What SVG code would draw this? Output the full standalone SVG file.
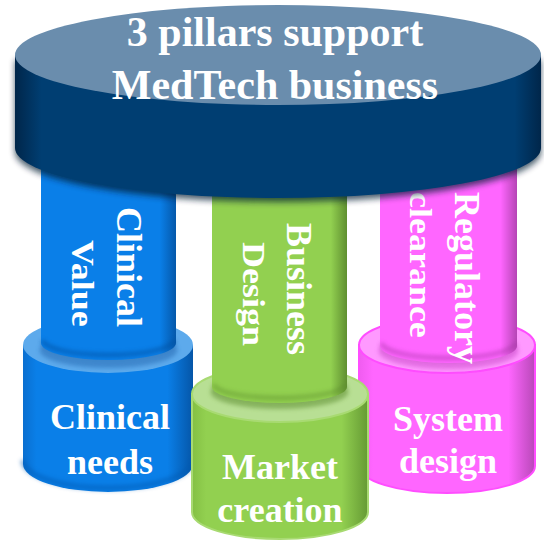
<svg xmlns="http://www.w3.org/2000/svg" width="544" height="542" viewBox="0 0 544 542">
<style>
.t{font-family:"Liberation Serif","Times New Roman",serif;font-weight:bold;fill:#ffffff;font-size:36px}
.title{font-size:42px;text-anchor:middle}
.mid{text-anchor:middle}
</style>
<defs>
<linearGradient id="discSide" x1="0" y1="0" x2="1" y2="0">
<stop offset="0" stop-color="#00264a"/><stop offset="0.05" stop-color="#003E72"/><stop offset="0.95" stop-color="#003E72"/><stop offset="1" stop-color="#00264a"/>
</linearGradient>
<linearGradient id="blueSide" x1="0" y1="0" x2="1" y2="0">
<stop offset="0" stop-color="#0a6fd0"/><stop offset="0.08" stop-color="#0A7FE8"/><stop offset="0.85" stop-color="#0A7FE8"/><stop offset="1" stop-color="#0556a8"/>
</linearGradient>
<linearGradient id="bluePil" x1="0" y1="0" x2="1" y2="0">
<stop offset="0" stop-color="#0A7FE8"/><stop offset="0.88" stop-color="#0A7FE8"/><stop offset="1" stop-color="#0558aa"/>
</linearGradient>
<linearGradient id="greenSide" x1="0" y1="0" x2="1" y2="0">
<stop offset="0" stop-color="#84c044"/><stop offset="0.08" stop-color="#92D050"/><stop offset="0.85" stop-color="#92D050"/><stop offset="1" stop-color="#659a34"/>
</linearGradient>
<linearGradient id="greenPil" x1="0" y1="0" x2="1" y2="0">
<stop offset="0" stop-color="#92D050"/><stop offset="0.88" stop-color="#92D050"/><stop offset="1" stop-color="#5f8f30"/>
</linearGradient>
<linearGradient id="pinkSide" x1="0" y1="0" x2="1" y2="0">
<stop offset="0" stop-color="#f05cf0"/><stop offset="0.08" stop-color="#FF66FF"/><stop offset="0.85" stop-color="#FF66FF"/><stop offset="1" stop-color="#b848b8"/>
</linearGradient>
<linearGradient id="pinkPil" x1="0" y1="0" x2="1" y2="0">
<stop offset="0" stop-color="#FF66FF"/><stop offset="0.88" stop-color="#FF66FF"/><stop offset="1" stop-color="#b545b5"/>
</linearGradient>
<filter id="blur" x="-20%" y="-20%" width="140%" height="140%"><feGaussianBlur stdDeviation="3"/></filter>
<filter id="blur2" x="-20%" y="-50%" width="140%" height="200%"><feGaussianBlur stdDeviation="2"/></filter>
</defs>

<g id="clinical">
<path d="M23,345 V464 A85,28 0 0 0 193,464 V345 Z" fill="url(#blueSide)"/>
<path d="M23,460 A85,28 0 0 0 193,460" fill="none" stroke="#0058b0" stroke-width="5" opacity="0.5" filter="url(#blur2)"/>
<ellipse cx="108" cy="345" rx="85" ry="28" fill="#5DAAEC"/>
<ellipse cx="108.5" cy="350" rx="69" ry="18" fill="#2b70b8" opacity="0.6" filter="url(#blur2)"/>
<path d="M41,120 V343 A67.5,17 0 0 0 176,343 V120 Z" fill="url(#bluePil)"/>
<path d="M43,340 A65.5,15 0 0 0 174,340" fill="none" stroke="#0050a0" stroke-width="4" opacity="0.6" filter="url(#blur2)"/>
<text class="t" transform="translate(117,207) rotate(90)">Clinical</text>
<text class="t" transform="translate(72,240) rotate(90) scale(1,0.88)">Value</text>
<text class="t mid" x="110" y="429">Clinical</text>
<text class="t mid" x="110" y="474">needs</text>
</g>

<g id="regulatory">
<path d="M359,345 V466 A88,27 0 0 0 535,466 V345 Z" fill="url(#pinkSide)" stroke="#FF4DFF" stroke-width="2"/>
<ellipse cx="447" cy="345" rx="88" ry="28" fill="#FF99FF" stroke="#FF4DFF" stroke-width="2"/>
<ellipse cx="448.5" cy="351" rx="70" ry="18" fill="#d050d0" opacity="0.6" filter="url(#blur2)"/>
<path d="M380,120 V346 A68.5,17 0 0 0 517,346 V120 Z" fill="url(#pinkPil)"/>
<path d="M382,343 A66.5,15 0 0 0 515,343" fill="none" stroke="#a030a0" stroke-width="4" opacity="0.5" filter="url(#blur2)"/>
<text class="t" transform="translate(455,192) rotate(90)">Regulatory</text>
<text class="t" transform="translate(410,192) rotate(90) scale(1,0.88)">clearance</text>
<text class="t mid" x="448" y="431">System</text>
<text class="t mid" x="448" y="473">design</text>
</g>

<g id="business">
<path d="M192,394 V512 A88,27 0 0 0 368,512 V394 Z" fill="url(#greenSide)" stroke="#A8DA72" stroke-width="2"/>
<ellipse cx="280" cy="394" rx="88" ry="28" fill="#B8DF94" stroke="#A8DA72" stroke-width="2"/>
<ellipse cx="279.5" cy="392" rx="69" ry="17" fill="#5f8f30" opacity="0.55" filter="url(#blur2)"/>
<path d="M212,120 V387 A67.5,16 0 0 0 347,387 V120 Z" fill="url(#greenPil)"/>
<path d="M214,384 A65.5,14 0 0 0 345,384" fill="none" stroke="#5a8a2c" stroke-width="4" opacity="0.5" filter="url(#blur2)"/>
<text class="t" transform="translate(287,223) rotate(90)">Business</text>
<text class="t" transform="translate(243,242) rotate(90) scale(1,0.88)">Design</text>
<text class="t mid" x="280" y="479">Market</text>
<text class="t mid" x="280" y="522">creation</text>
</g>

<g id="top">
<path d="M15,60 V152 A263,50 0 0 0 541,152 V60 Z" fill="#001a33" opacity="0.7" filter="url(#blur)"/>
<path d="M15,55 V148 A263,50 0 0 0 541,148 V55 Z" fill="url(#discSide)"/>
<ellipse cx="278" cy="55" rx="263" ry="50" fill="#6A8DAD"/>
<text class="t title" x="275" y="46">3 pillars support</text>
<text class="t title" x="275" y="99">MedTech business</text>
</g>

<g id="connectors"></g>
</svg>
